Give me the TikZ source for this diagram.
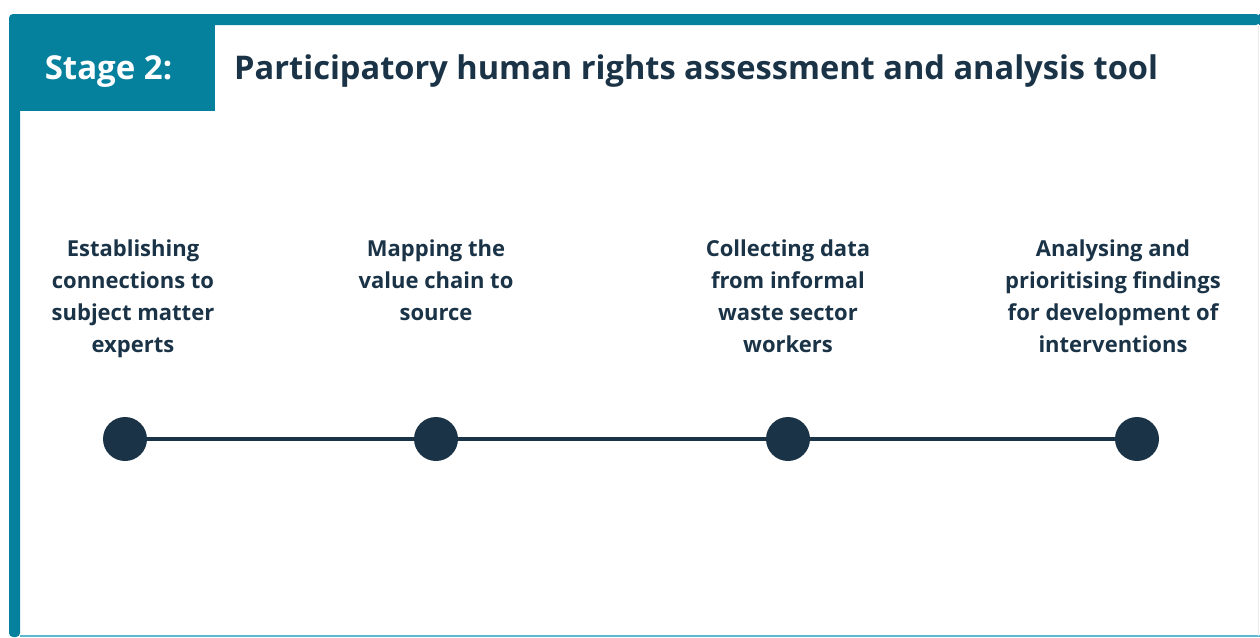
\documentclass[tikz,border=0pt]{standalone}
\usepackage{fontspec}
\setmainfont{Open Sans}
\definecolor{teal1}{HTML}{05809D}
\definecolor{tealL}{HTML}{5DB8CF}
\definecolor{navy}{HTML}{1A3347}
\begin{document}
\begin{tikzpicture}[x=1pt,y=-1pt,
  dot/.style={circle,fill=navy,minimum size=44pt,inner sep=0pt},
  steptext/.style={align=center,text=navy,font=\fontsize{22}{32}\selectfont\bfseries,inner sep=0pt},
  link/.style={draw=navy,line width=4.5pt}]
\useasboundingbox (0,0) rectangle (1260,637);
% frame
\fill[teal1,rounded corners=4pt] (9,637) -- (9,14) -- (1260,14) -- (1260,25) -- (20,25) -- (20,637) -- cycle;
\fill[teal1] (1259,14) rectangle (1260,25);
\draw[tealL,line width=1.5pt] (20,636) -- (1260,636);
\draw[black!8,line width=0.8pt] (1258.5,25) -- (1258.5,636);
% stage box
\fill[teal1] (9,20) rectangle (215,111);
\node[text=white,font=\fontsize{33}{38}\selectfont\bfseries,inner sep=0pt] (stage) at (108.5,72) {Stage 2:};
\node[anchor=west,text=navy,font=\fontsize{32.6}{38}\selectfont\bfseries,inner sep=0pt] (title) at (234,71) {Participatory human rights assessment and analysis tool};
% steps
\node[dot] (c1) at (125,439) {};
\node[dot] (c2) at (436,439) {};
\node[dot] (c3) at (788,439) {};
\node[dot] (c4) at (1137,439) {};
\draw[link] (c1) -- (c2);
\draw[link] (c2) -- (c3);
\draw[link] (c3) -- (c4);
\node[steptext] (t1) at (133,299) {Establishing\\connections to\\subject matter\\experts};
\node[steptext] (t2) at (436,280) {Mapping the\\value chain to\\source};
\node[steptext] (t3) at (788,296) {Collecting data\\from informal\\waste sector\\workers};
\node[steptext] (t4) at (1113,296) {Analysing and\\prioritising findings\\for development of\\interventions};
\end{tikzpicture}
\end{document}
